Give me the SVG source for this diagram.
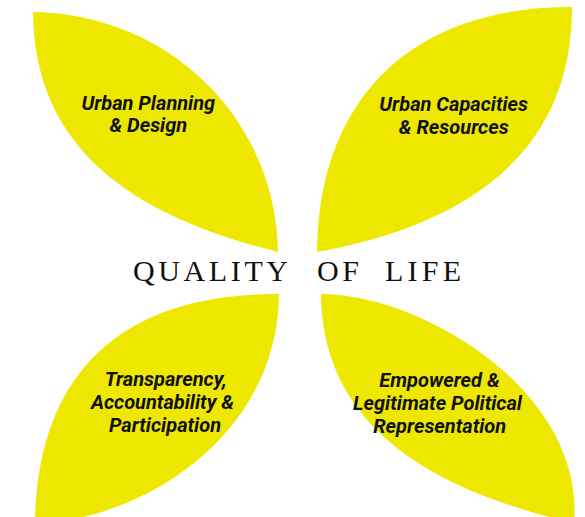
<svg xmlns="http://www.w3.org/2000/svg" width="585" height="517" viewBox="0 0 585 517">
<style>
.leaf{fill:#EEE800;stroke:none}
.lbl{font-family:Roboto,"Liberation Sans",sans-serif;font-weight:bold;font-style:italic;font-size:20px;fill:#111;text-anchor:middle}
.title{font-family:"Liberation Serif",serif;font-size:30px;fill:#111}
</style>
<rect width="585" height="517" fill="#fff"/>
<g id="leaf-urban-planning">
<path class="leaf" d="M33,12 C170,14 276,120 278,252 C150,220 34,160 33,12 Z"/>
<text class="lbl" x="148.3" y="110">Urban Planning</text>
<text class="lbl" x="148.3" y="132">&amp; Design</text>
</g>
<g id="leaf-urban-capacities">
<path class="leaf" d="M572,7 C405,7 318,105 317,252 C458,226 572,160 572,7 Z"/>
<text class="lbl" x="453.7" y="110.7">Urban Capacities</text>
<text class="lbl" x="453.7" y="134">&amp; Resources</text>
</g>
<g id="leaf-transparency">
<path class="leaf" d="M279,294 C110,293 36,385 35,524 C152,518 278,430 279,294 Z"/>
<text class="lbl" x="165.7" y="386">Transparency,</text>
<text class="lbl" x="162.5" y="409.3">Accountability &amp;</text>
<text class="lbl" x="165" y="431.7">Participation</text>
</g>
<g id="leaf-empowered">
<path class="leaf" d="M321,294 C420,294 585,390 574,523 C444,493 322,434 321,294 Z"/>
<text class="lbl" x="439.5" y="386.7">Empowered &amp;</text>
<text class="lbl" x="437.5" y="410">Legitimate Political</text>
<text class="lbl" x="439.7" y="432.7">Representation</text>
</g>
<g id="title">
<text class="title" x="133" y="280.7" textLength="155" lengthAdjust="spacing">QUALITY</text>
<text class="title" x="317" y="280.7" textLength="42" lengthAdjust="spacing">OF</text>
<text class="title" x="385" y="280.7" textLength="76" lengthAdjust="spacing">LIFE</text>
</g>
<g id="connectors"/>
</svg>
